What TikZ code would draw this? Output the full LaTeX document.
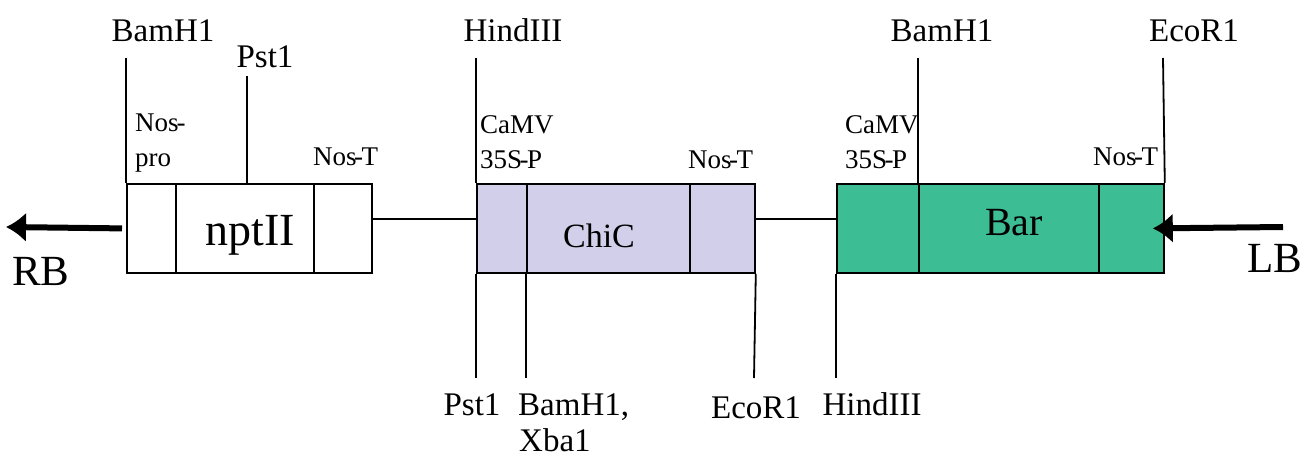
\documentclass[tikz,border=0pt]{standalone}
\usepackage{fontspec}
\setmainfont{Liberation Serif}
\usetikzlibrary{arrows.meta}
\definecolor{lav}{HTML}{D1CFE9}
\definecolor{grn}{HTML}{3DBD93}
\newcommand{\hy}{\kern-2.5pt-\kern-1.5pt}
\begin{document}
\begin{tikzpicture}[x=1pt,y=-1pt,
  seg/.style={draw, line width=1.8pt, minimum height=89pt, inner sep=0pt, anchor=north west},
  site/.style={font=\fontsize{33}{36}\selectfont, inner sep=0pt, anchor=base},
  sitew/.style={font=\fontsize{33}{36}\selectfont, inner sep=0pt, anchor=base west},
  small/.style={font=\fontsize{27}{30}\selectfont, inner sep=0pt, anchor=base west},
  gene/.style={inner sep=0pt, anchor=base},
  cut/.style={line width=1.8pt},
  link/.style={line width=1.8pt},
  border/.style={line width=6pt, -{Latex[length=20pt,width=30pt]}}
]
\useasboundingbox (0,0) rectangle (1307,460);
% segments
\node[seg, minimum width=49pt]  (np1) at (126,183) {};
\node[seg, minimum width=138pt] (np2) at (175,183) {};
\node[seg, minimum width=58pt]  (np3) at (313,183) {};
\node[seg, fill=lav, minimum width=50pt]  (ch1) at (476,183) {};
\node[seg, fill=lav, minimum width=163pt] (ch2) at (526,183) {};
\node[seg, fill=lav, minimum width=65pt]  (ch3) at (689,183) {};
\node[seg, fill=grn, minimum width=82pt]  (ba1) at (836,183) {};
\node[seg, fill=grn, minimum width=180pt] (ba2) at (918,183) {};
\node[seg, fill=grn, minimum width=65pt]  (ba3) at (1098,183) {};
% gene names
\node[gene, font=\fontsize{46}{50}\selectfont] (tnpt) at (250,245) {nptII};
\node[gene, font=\fontsize{34}{38}\selectfont] (tchi) at (599,247) {ChiC};
\node[gene, font=\fontsize{40}{44}\selectfont] (tbar) at (1014,235) {Bar};
% linkers
\draw[link] ([yshift=-36pt]np3.north east) -- ([yshift=-36pt]ch1.north west);
\draw[link] ([yshift=-36pt]ch3.north east) -- ([yshift=-36pt]ba1.north west);
% borders
\coordinate (rbtip) at (6,227);
\coordinate (lbstart) at (1283,227);
\draw[border] ([xshift=-4pt]np1.west) -- (rbtip);
\draw[border] (lbstart) -- ([xshift=-12pt]ba3.east);
\node[gene, anchor=base west, font=\fontsize{43}{46}\selectfont] (rb) at (12,285) {RB};
\node[gene, font=\fontsize{43}{46}\selectfont] (lb) at (1275,272) {LB};
% top restriction sites
\node[site] (s1) at (163,42) {BamH1};
\node[site] (s2) at (265,67) {Pst1};
\node[site] (s3) at (513,42) {HindIII};
\node[site] (s4) at (942,42) {BamH1};
\node[site] (s5) at (1194,42) {EcoR1};
\coordinate (c1) at (126,58);
\coordinate (c2) at (247,76);
\coordinate (c3) at (476,58);
\coordinate (c4) at (918,58);
\coordinate (c5) at (1163,58);
\draw[cut] (c1) -- (np1.north west);
\draw[cut] (c2) -- (np2.north west -| c2);
\draw[cut] (c3) -- (ch1.north west);
\draw[cut] (c4) -- (ba2.north west);
\draw[cut] (c5) -- (ba3.north east);
% bottom restriction sites
\coordinate (b1) at (476,378);
\coordinate (b2) at (526,378);
\coordinate (b3) at (754,378);
\coordinate (b4) at (836,378);
\draw[cut] (ch1.south west) -- (b1);
\draw[cut] (ch2.south west) -- (b2);
\draw[cut] (ch3.south east) -- (b3);
\draw[cut] (ba1.south west) -- (b4);
\node[site] (u1) at (472,415) {Pst1};
\node[sitew] (u2) at (518,415) {BamH1,};
\node[sitew] (u2b) at (519,451) {Xba1};
\node[site] (u3) at (756,418) {EcoR1};
\node[site] (u4) at (872,415) {HindIII};
% element labels
\node[small] (l1) at (135,131) {Nos\kern-2pt-};
\node[small] (l1b) at (135,166) {pro};
\node[small] (l2) at (313,165) {Nos\hy T};
\node[small] (l3) at (480,133) {CaMV};
\node[small] (l3b) at (480,168) {35S\hy P};
\node[small] (l4) at (688,168) {Nos\hy T};
\node[small] (l5) at (845,133) {CaMV};
\node[small] (l5b) at (845,168) {35S\hy P};
\node[small] (l6) at (1093,165) {Nos\hy T};
\end{tikzpicture}
\end{document}
